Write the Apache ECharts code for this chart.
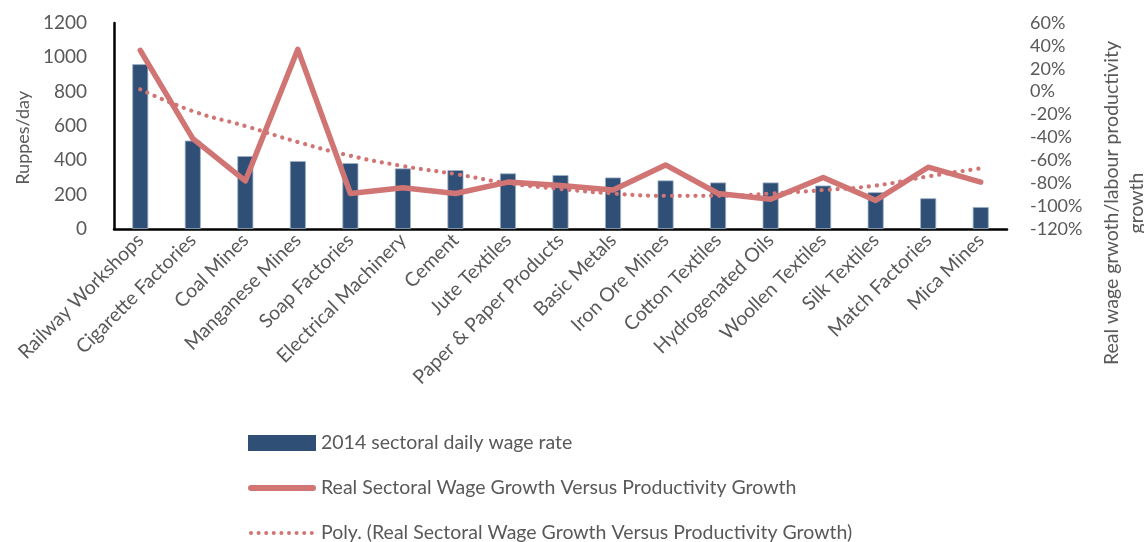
<!DOCTYPE html>
<html>
<head>
<meta charset="utf-8">
<script src="https://cdn.jsdelivr.net/npm/echarts@6/dist/echarts.min.js"></script>
<style>html,body{margin:0;padding:0;background:#fff}#c{width:1144px;height:542px}</style>
</head>
<body>
<div id="c"></div>
<script>
var categories = ["Railway Workshops","Cigarette Factories","Coal Mines","Manganese Mines","Soap Factories","Electrical Machinery","Cement","Jute Textiles","Paper & Paper Products","Basic Metals","Iron Ore Mines","Cotton Textiles","Hydrogenated Oils","Woollen Textiles","Silk Textiles","Match Factories","Mica Mines"];
var wageRate = [960,515,425,396,384,353,343,324,314,300,283,271,271,253,214,179,128];
var wageVsProductivity = [36,-41,-78,37,-89,-84,-89,-79,-82,-86,-64,-89,-94,-75,-95,-66,-79];
var polyTrend = [2,-17,-30,-44,-56,-65,-72,-80,-85,-89,-91,-91,-89,-86,-82,-74,-67];
var leftTicks = {min:0, max:1200, interval:200};
var rightTicks = {min:-120, max:60, interval:20};

var FONT = 'Lato';
var GREY = '#595959';
var RED = '#D17474';

// legend icon shapes (68 x 16 box)
var solidIcon = 'path://M0,0 M68,16 M3,5 L65,5 A3,3 0 0 1 65,11 L3,11 A3,3 0 0 1 3,5 Z';
var dotIcon = 'path://M0,0 M68,16';
for (var k = 0; k < 9; k++) {
  var cx = 3 + k * 7.6, r = 2;
  dotIcon += ' M' + (cx - r) + ',8 A' + r + ',' + r + ' 0 1 0 ' + (cx + r) + ',8 A' + r + ',' + r + ' 0 1 0 ' + (cx - r) + ',8 Z';
}

var chart = echarts.init(document.getElementById('c'));
chart.setOption({
  animation:false,
  textStyle:{fontFamily:FONT},
  grid:{left:114, right:137, top:23, bottom:313, containLabel:false},
  legend:{
    orient:'vertical', left:248, top:433, height:200, padding:0, itemGap:25, itemWidth:68, itemHeight:16,
    textStyle:{color:GREY, fontSize:19.5, fontFamily:FONT, lineHeight:20},
    data:[
      {name:'2014 sectoral daily wage rate', icon:'rect', itemStyle:{borderWidth:0}},
      {name:'Real Sectoral Wage Growth Versus Productivity Growth', icon:solidIcon, itemStyle:{color:RED, borderWidth:0}},
      {name:'Poly. (Real Sectoral Wage Growth Versus Productivity Growth)', icon:dotIcon, itemStyle:{color:RED, borderWidth:0}}
    ]
  },
  xAxis:{
    type:'category', data:categories,
    axisLine:{lineStyle:{color:'#000', width:2.5}},
    axisTick:{show:false},
    axisLabel:{rotate:45, interval:0, color:GREY, fontSize:19.5, fontFamily:FONT, margin:8}
  },
  yAxis:[
    {type:'value', min:leftTicks.min, max:leftTicks.max, interval:leftTicks.interval,
     axisLine:{show:true, lineStyle:{color:'#000', width:2.5}}, axisTick:{show:false},
     splitLine:{show:false},
     axisLabel:{color:GREY, fontSize:19, fontFamily:FONT, margin:27, formatter:function(v){return String(v);}}},
    {type:'value', min:rightTicks.min, max:rightTicks.max, interval:rightTicks.interval, position:'right',
     axisLine:{show:false}, axisTick:{show:false}, splitLine:{show:false},
     axisLabel:{color:GREY, fontSize:18, fontFamily:FONT, margin:23, formatter:'{value}%'}}
  ],
  graphic:[
    {type:'text', left:14, top:91, rotation:Math.PI/2, style:{text:'Ruppes/day', fill:GREY, font:'18px '+FONT}},
    {type:'text', x:1112, y:203, rotation:Math.PI/2, style:{text:'Real wage grwoth/labour productivity', fill:GREY, font:'19.5px '+FONT, align:'center', verticalAlign:'middle'}},
    {type:'text', x:1137, y:203, rotation:Math.PI/2, style:{text:'growth', fill:GREY, font:'19.5px '+FONT, align:'center', verticalAlign:'middle'}}
  ],
  series:[
    {name:'2014 sectoral daily wage rate', type:'bar', data:wageRate, barWidth:16, yAxisIndex:0,
     itemStyle:{color:'#2F4F76', borderColor:'#9FB1C6', borderWidth:0.8}, z:2},
    {name:'Real Sectoral Wage Growth Versus Productivity Growth', type:'line', data:wageVsProductivity, yAxisIndex:1,
     symbol:'none', lineStyle:{color:RED, width:5.5, cap:'round', join:'round'}, itemStyle:{color:RED}, z:3},
    {name:'Poly. (Real Sectoral Wage Growth Versus Productivity Growth)', type:'line', data:polyTrend, yAxisIndex:1,
     smooth:true, symbol:'none', lineStyle:{color:RED, width:4.2, type:[0.1,7.8], cap:'round'}, itemStyle:{color:RED}, z:4}
  ]
});
</script>
</body>
</html>
